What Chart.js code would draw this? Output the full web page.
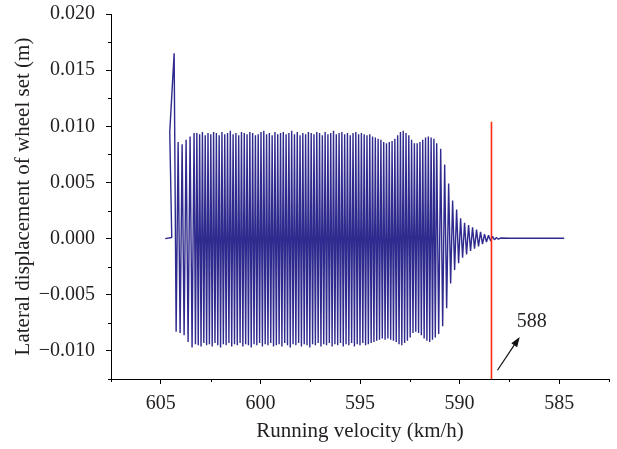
<!DOCTYPE html>
<html>
<head>
<meta charset="utf-8">
<script src="https://cdn.jsdelivr.net/npm/chart.js@4.4.0/dist/chart.umd.min.js"></script>
<style>
  html, body { margin: 0; padding: 0; background: #fff; }
  #wrap { width: 617px; height: 449px; position: relative; }
</style>
</head>
<body>
<div id="wrap"><canvas id="c" width="617" height="449"></canvas></div>
<script>
// ---- Data ----
// Onset: flat line, jump and first (slower) oscillation extrema
const onsetVelocity = [604.78, 604.45, 604.55, 604.33, 604.23, 604.13, 604.03, 603.93, 603.83, 603.73, 603.63, 603.53, 603.43, 603.33];
const onsetDisplacement = [0, 0.0001, 0.0095, 0.0165, -0.0083, 0.0086, -0.0084, 0.0084, -0.0086, 0.0088, -0.0092, 0.0091, -0.0097, 0.0094];

// Sustained hunting: extrema (lower, upper alternating)
const huntVelocity = [
  603.26, 603.19, 603.12, 603.05, 602.98, 602.91, 602.84, 602.77, 602.70, 602.63,
  602.56, 602.49, 602.42, 602.35, 602.28, 602.21, 602.14, 602.07, 602.00, 601.93,
  601.86, 601.79, 601.72, 601.65, 601.58, 601.51, 601.44, 601.37, 601.30, 601.23,
  601.16, 601.09, 601.02, 600.95, 600.88, 600.81, 600.74, 600.67, 600.60, 600.53,
  600.46, 600.39, 600.32, 600.25, 600.18, 600.11, 600.04, 599.97, 599.90, 599.83,
  599.76, 599.69, 599.62, 599.55, 599.48, 599.41, 599.34, 599.27, 599.20, 599.13,
  599.06, 598.99, 598.92, 598.85, 598.78, 598.71, 598.64, 598.57, 598.50, 598.43,
  598.36, 598.29, 598.22, 598.15, 598.08, 598.01, 597.94, 597.87, 597.80, 597.73,
  597.66, 597.59, 597.52, 597.45, 597.38, 597.31, 597.24, 597.17, 597.10, 597.03,
  596.96, 596.89, 596.82, 596.75, 596.68, 596.61, 596.54, 596.47, 596.40, 596.33,
  596.26, 596.19, 596.12, 596.05, 595.98, 595.91, 595.84, 595.77, 595.70, 595.63,
  595.56, 595.49, 595.42, 595.35, 595.28, 595.21, 595.14, 595.07, 595.00, 594.93,
  594.86, 594.79, 594.72, 594.65, 594.58, 594.51, 594.44, 594.37, 594.30, 594.23,
  594.16, 594.09, 594.02, 593.95, 593.88, 593.81, 593.74, 593.67, 593.60, 593.53,
  593.46, 593.39, 593.32, 593.25, 593.18, 593.11, 593.04, 592.97, 592.90, 592.83,
  592.76, 592.69, 592.62, 592.55, 592.48, 592.41, 592.34, 592.27, 592.20, 592.13,
  592.06, 591.99, 591.92, 591.85, 591.78, 591.71, 591.64, 591.57, 591.50, 591.43,
  591.36, 591.29, 591.22, 591.15
];
const huntDisplacement = [
  -0.0094, 0.0094, -0.0095, 0.0093, -0.0096, 0.0095, -0.0093, 0.0092, -0.0095, 0.0094,
  -0.0094, 0.0093, -0.0096, 0.0095, -0.0093, 0.0094, -0.0095, 0.0092, -0.0097, 0.0095,
  -0.0094, 0.0093, -0.0095, 0.0094, -0.0093, 0.0096, -0.0096, 0.0093, -0.0094, 0.0094,
  -0.0095, 0.0092, -0.0093, 0.0095, -0.0096, 0.0094, -0.0094, 0.0093, -0.0095, 0.0095,
  -0.0097, 0.0094, -0.0094, 0.0092, -0.0095, 0.0093, -0.0093, 0.0095, -0.0096, 0.0096,
  -0.0094, 0.0093, -0.0095, 0.0094, -0.0093, 0.0092, -0.0096, 0.0095, -0.0095, 0.0093,
  -0.0094, 0.0094, -0.0096, 0.0095, -0.0093, 0.0093, -0.0095, 0.0094, -0.0097, 0.0096,
  -0.0094, 0.0093, -0.0095, 0.0095, -0.0093, 0.0092, -0.0096, 0.0094, -0.0094, 0.0093,
  -0.0095, 0.0095, -0.0097, 0.0094, -0.0094, 0.0093, -0.0095, 0.0095, -0.0093, 0.0094,
  -0.0096, 0.0092, -0.0094, 0.0095, -0.0095, 0.0093, -0.0093, 0.0094, -0.0096, 0.0096,
  -0.0094, 0.0093, -0.0095, 0.0094, -0.0093, 0.0095, -0.0096, 0.0093, -0.0094, 0.0094,
  -0.0095, 0.0092, -0.0093, 0.0094, -0.0096, 0.0095, -0.0094, 0.0093, -0.0095, 0.0094,
  -0.0093, 0.0093, -0.0095, 0.0092, -0.0094, 0.0093, -0.0093, 0.0091, -0.0092, 0.0090,
  -0.0091, 0.0089, -0.0090, 0.0088, -0.0089, 0.0086, -0.0090, 0.0085, -0.0089, 0.0086,
  -0.0090, 0.0087, -0.0091, 0.0089, -0.0092, 0.0092, -0.0094, 0.0095, -0.0095, 0.0096,
  -0.0093, 0.0094, -0.0091, 0.0092, -0.0088, 0.0088, -0.0084, 0.0085, -0.0083, 0.0085,
  -0.0084, 0.0086, -0.0086, 0.0088, -0.0089, 0.0090, -0.0091, 0.0091, -0.0092, 0.0090,
  -0.0090, 0.0089, -0.0088, 0.0085
];

// Decay towards stability
const decayVelocity = [
  591.05, 590.95, 590.85, 590.75, 590.65, 590.55, 590.45, 590.35, 590.25, 590.15,
  590.05, 589.95, 589.85, 589.75, 589.65, 589.55, 589.45, 589.35, 589.25, 589.15,
  589.05, 588.95, 588.85, 588.75, 588.65, 588.55, 588.45, 588.35, 588.25, 588.15,
  588.05, 587.95
];
const decayDisplacement = [
  -0.0085, 0.0080, -0.0078, 0.0066, -0.0062, 0.0049, -0.0040, 0.0034, -0.0028, 0.0026,
  -0.0022, 0.0018, -0.0017, 0.0014, -0.0014, 0.0012, -0.0011, 0.0010, -0.0009, 0.0008,
  -0.0007, 0.0006, -0.0005, 0.0004, -0.0003, 0.0003, -0.0002, 0.0002, -0.0001, 0.0001,
  -0.00005, 0.00005
];

// Stable tail
const tailVelocity = [587.5, 584.75];
const tailDisplacement = [0.00003, 0.00003];

// Red marker line at the critical velocity
const criticalVelocity = [588.4, 588.4];
const criticalDisplacement = [0.0104, -0.0125];

// Annotation arrow and its label
const arrowVelocity = [588.1, 586.98];
const arrowDisplacement = [-0.01172, -0.00875];
const annotationLabel = "588";
const annotationAt = [586.38, -0.0074];

// Axes
const xRange = [582.5, 607.5];
const yRange = [-0.0125, 0.020];
const xTitle = "Running velocity (km/h)";
const yTitle = "Lateral displacement of wheel set (m)";

// ---- Build datasets ----
const velocity = [].concat(onsetVelocity, huntVelocity, decayVelocity, tailVelocity);
const displacement = [].concat(onsetDisplacement, huntDisplacement, decayDisplacement, tailDisplacement);
if (velocity.length !== displacement.length) console.error('length mismatch', velocity.length, displacement.length);

const series = velocity.map((v, i) => ({ x: v, y: displacement[i] }));
const redLine = criticalVelocity.map((v, i) => ({ x: v, y: criticalDisplacement[i] }));

const SERIF = "'Liberation Serif', 'DejaVu Serif', serif";
const TXT = '#231f20';

function isMult(v, step) { return Math.abs(v / step - Math.round(v / step)) < 1e-6; }

const extras = {
  id: 'extras',
  afterDraw(chart) {
    const ctx = chart.ctx;
    const xs = chart.scales.x, ys = chart.scales.y;
    ctx.save();
    ctx.strokeStyle = '#000';
    ctx.lineWidth = 1;
    ctx.beginPath();
    xs.ticks.forEach(t => {
      if (!isMult(t.value, 5)) {
        const px = Math.round(xs.getPixelForValue(t.value)) + 0.5;
        ctx.moveTo(px, ys.bottom);
        ctx.lineTo(px, ys.bottom + 3);
      }
    });
    ys.ticks.forEach(t => {
      if (!isMult(t.value, 0.005)) {
        const py = Math.round(ys.getPixelForValue(t.value)) + 0.5;
        ctx.moveTo(xs.left, py);
        ctx.lineTo(xs.left - 3, py);
      }
    });
    ctx.stroke();

    const x0 = xs.getPixelForValue(arrowVelocity[0]), y0 = ys.getPixelForValue(arrowDisplacement[0]);
    const x1 = xs.getPixelForValue(arrowVelocity[1]), y1 = ys.getPixelForValue(arrowDisplacement[1]);
    const ang = Math.atan2(y1 - y0, x1 - x0);
    const hl = 10, hw = 3.5;
    const bx = x1 - hl * Math.cos(ang), by = y1 - hl * Math.sin(ang);
    ctx.strokeStyle = '#111';
    ctx.fillStyle = '#111';
    ctx.lineWidth = 1.2;
    ctx.beginPath();
    ctx.moveTo(x0, y0);
    ctx.lineTo(bx, by);
    ctx.stroke();
    ctx.beginPath();
    ctx.moveTo(x1, y1);
    ctx.lineTo(bx + hw * Math.sin(ang), by - hw * Math.cos(ang));
    ctx.lineTo(bx - hw * Math.sin(ang), by + hw * Math.cos(ang));
    ctx.closePath();
    ctx.fill();

    ctx.font = "20px " + SERIF;
    ctx.fillStyle = TXT;
    ctx.textAlign = 'center';
    ctx.textBaseline = 'middle';
    ctx.fillText(annotationLabel, xs.getPixelForValue(annotationAt[0]), ys.getPixelForValue(annotationAt[1]));
    ctx.restore();
  }
};

new Chart(document.getElementById('c'), {
  type: 'scatter',
  data: {
    datasets: [
      {
        data: redLine,
        showLine: true,
        borderColor: '#ff2a10',
        borderWidth: 1.6,
        pointRadius: 0,
        tension: 0
      },
      {
        data: series,
        showLine: true,
        borderColor: '#2f2a8e',
        borderWidth: 1.4,
        borderJoinStyle: 'bevel',
        pointRadius: 0,
        tension: 0.000001
      }
    ]
  },
  options: {
    responsive: false,
    animation: false,
    devicePixelRatio: 1,
    layout: { padding: { left: 0, right: 8, top: 14, bottom: 0 } },
    plugins: { legend: { display: false }, tooltip: { enabled: false } },
    scales: {
      x: {
        type: 'linear',
        reverse: true,
        min: xRange[0],
        max: xRange[1],
        afterFit(s) { s.height = 70; s.paddingLeft = 0; s.paddingRight = 0; },
        border: { display: true, color: '#000', width: 1 },
        grid: {
          drawOnChartArea: false,
          drawTicks: true,
          tickLength: 5,
          tickColor: c => (isMult(c.tick.value, 5) ? '#000' : 'rgba(0,0,0,0)')
        },
        ticks: {
          stepSize: 2.5,
          autoSkip: false,
          maxRotation: 0,
          padding: 8,
          color: TXT,
          font: { family: SERIF, size: 20 },
          callback: v => (isMult(v, 5) ? String(Math.round(v)) : '')
        },
        title: {
          display: true,
          text: xTitle,
          color: TXT,
          font: { family: SERIF, size: 21 },
          padding: { top: 0, bottom: 5 }
        }
      },
      y: {
        type: 'linear',
        min: yRange[0],
        max: yRange[1],
        afterFit(s) { s.width = 111; s.paddingTop = 0; s.paddingBottom = 0; },
        border: { display: true, color: '#000', width: 1 },
        grid: {
          drawOnChartArea: false,
          drawTicks: true,
          tickLength: 5,
          tickColor: c => (isMult(c.tick.value, 0.005) ? '#000' : 'rgba(0,0,0,0)')
        },
        ticks: {
          stepSize: 0.0025,
          autoSkip: false,
          padding: 11,
          color: TXT,
          font: { family: SERIF, size: 20 },
          callback: v => {
            if (!isMult(v, 0.005)) return '';
            const s = Math.abs(v).toFixed(3);
            return v < -1e-9 ? '\u2212' + s : s;
          }
        },
        title: {
          display: true,
          text: yTitle,
          color: TXT,
          font: { family: SERIF, size: 21 },
          padding: { top: 11, bottom: 0 }
        }
      }
    }
  },
  plugins: [extras]
});
</script>
</body>
</html>
